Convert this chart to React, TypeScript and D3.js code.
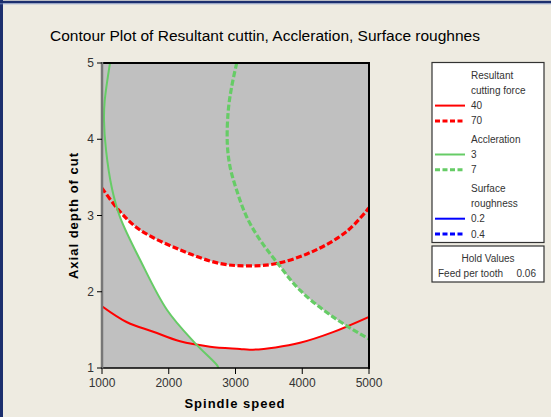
import React from "react";
import * as d3 from "d3";

// Overlaid contour plot: two responses per factor level, hold value for feed per tooth
const W = 551;
const H = 417;

const xTicks = [1000, 2000, 3000, 4000, 5000];
const yTicks = [1, 2, 3, 4, 5];

// Contour lines as [spindle speed, axial depth of cut]
const force40: [number, number][] = [
  [1000, 1.81], [1375, 1.6], [1768, 1.476], [2169, 1.35], [2618, 1.28],
  [3067, 1.25], [3217, 1.24], [3600, 1.27], [3966, 1.33], [4460, 1.47], [5000, 1.67],
];
const force70: [number, number][] = [
  [1000, 3.36], [1270, 3.05], [1570, 2.81], [2169, 2.55], [2768, 2.37],
  [3217, 2.34], [3617, 2.37], [4161, 2.53], [4665, 2.79], [5000, 3.1],
];
const accel3: [number, number][] = [
  [1120, 5], [1040, 4.5], [1030, 4.25], [1060, 3.86], [1150, 3.35], [1270, 2.98],
  [1570, 2.42], [1975, 1.76], [2390, 1.33], [2720, 1.04], [2745, 1],
];
const accel7: [number, number][] = [
  [3018, 5], [2943, 4.69], [2892, 4.38], [2877, 3.95], [2918, 3.64], [3018, 3.33],
  [3168, 2.98], [3367, 2.68], [3617, 2.39], [3966, 2.02], [4460, 1.67], [5000, 1.38],
];

const legendGroups = [
  { title: ["Resultant", "cutting force"], color: "#ff0000", levels: ["40", "70"] },
  { title: ["Accleration"], color: "#66cc66", levels: ["3", "7"] },
  { title: ["Surface", "roughness"], color: "#0000ff", levels: ["0.2", "0.4"] },
];

const holdName = "Feed per tooth";
const holdValue = "0.06";

export default function App() {
  const x = d3.scaleLinear().domain([1000, 5000]).range([102, 369]);
  const y = d3.scaleLinear().domain([1, 5]).range([368, 63]);
  const line = d3
    .line<[number, number]>()
    .x((d) => x(d[0]))
    .y((d) => y(d[1]))
    .curve(d3.curveCatmullRom.alpha(0.5));

  const smoothPoly = (pts: [number, number][], extra: [number, number][]) =>
    (line(pts) as string) + extra.map((d) => `L${x(d[0])},${y(d[1])}`).join("") + "Z";

  const fs = "'Liberation Sans', Arial, sans-serif";

  // legend rows
  const rows: React.ReactNode[] = [];
  let ry = 75;
  legendGroups.forEach((g, gi) => {
    g.title.forEach((t, ti) => {
      rows.push(
        <text key={`t${gi}${ti}`} x={471} y={ry} dy="0.35em" fontSize={10} fill="#333" fontFamily={fs}>
          {t}
        </text>
      );
      ry += 15.3;
    });
    g.levels.forEach((lv, li) => {
      rows.push(
        <g key={`l${gi}${li}`}>
          <line
            x1={435}
            x2={465}
            y1={ry}
            y2={ry}
            stroke={g.color}
            strokeWidth={li === 0 ? 2 : 3}
            strokeDasharray={li === 0 ? undefined : "5,2.5"}
          />
          <text x={471} y={ry} dy="0.35em" fontSize={10} fill="#333" fontFamily={fs}>
            {lv}
          </text>
        </g>
      );
      ry += 15.3;
    });
    ry += 3;
  });

  return (
    <svg width={W} height={H} style={{ position: "absolute", left: 0, top: 0 }} fontFamily={fs}>
      <defs>
        <clipPath id="aboveF40">
          <path d={smoothPoly(force40, [[5000, 5], [1000, 5]])} />
        </clipPath>
        <clipPath id="belowF70">
          <path d={smoothPoly(force70, [[5000, 1], [1000, 1]])} />
        </clipPath>
        <clipPath id="rightA3">
          <path d={smoothPoly(accel3, [[5000, 1], [5000, 5]])} />
        </clipPath>
        <clipPath id="leftA7">
          <path d={smoothPoly(accel7, [[5000, 1], [1000, 1], [1000, 5]])} />
        </clipPath>
        <clipPath id="plotArea">
          <rect x={102} y={63} width={267} height={305} />
        </clipPath>
      </defs>

      <rect x={0} y={0} width={W} height={H} fill="#eeebe1" />
      <line x1={0} x2={W} y1={2} y2={2} stroke="#1c2f6e" strokeWidth={2.5} />
      <line x1={1.5} x2={1.5} y1={0} y2={H} stroke="#1c2f6e" strokeWidth={3} />
      <line x1={0} x2={W} y1={3.8} y2={3.8} stroke="#7f93c6" strokeWidth={0.8} />

      <text x={265} y={36} dy="0.35em" textAnchor="middle" fontSize={15.5} fill="#000" fontFamily={fs}>
        Contour Plot of Resultant cuttin, Accleration, Surface roughnes
      </text>

      {/* plot region */}
      <rect x={102} y={63} width={267} height={305} fill="#c0c0c0" />
      <g clipPath="url(#plotArea)">
        <g clipPath="url(#aboveF40)">
          <g clipPath="url(#belowF70)">
            <g clipPath="url(#rightA3)">
              <rect x={102} y={63} width={267} height={305} fill="#ffffff" clipPath="url(#leftA7)" />
            </g>
          </g>
        </g>
        <path d={line(force40) as string} fill="none" stroke="#ff0000" strokeWidth={2} />
        <path d={line(force70) as string} fill="none" stroke="#ff0000" strokeWidth={3.2} strokeDasharray="6,2.5" />
        <path d={line(accel3) as string} fill="none" stroke="#66cc66" strokeWidth={2} />
        <path d={line(accel7) as string} fill="none" stroke="#66cc66" strokeWidth={3.2} strokeDasharray="6,2.5" />
      </g>

      {/* frame */}
      <line x1={101} x2={370} y1={63} y2={63} stroke="#000" strokeWidth={2} />
      <line x1={369} x2={369} y1={62} y2={369} stroke="#000" strokeWidth={2} />
      <line x1={101} x2={370} y1={368} y2={368} stroke="#000" strokeWidth={1.5} />
      <line x1={102} x2={102} y1={62} y2={369} stroke="#777" strokeWidth={2.5} />

      {/* x axis */}
      {xTicks.map((t) => (
        <g key={`x${t}`}>
          <line x1={x(t)} x2={x(t)} y1={368} y2={374} stroke="#000" strokeWidth={1} />
          <text x={x(t)} y={383} dy="0.35em" textAnchor="middle" fontSize={12} fill="#333" fontFamily={fs}>
            {t}
          </text>
        </g>
      ))}
      <text x={235} y={403} dy="0.35em" textAnchor="middle" fontSize={13} fontWeight="bold" letterSpacing={1} fill="#000" fontFamily={fs}>
        Spindle speed
      </text>

      {/* y axis */}
      {yTicks.map((t) => (
        <g key={`y${t}`}>
          <line x1={97} x2={102} y1={y(t)} y2={y(t)} stroke="#000" strokeWidth={1} />
          <text x={94} y={y(t)} dy="0.35em" textAnchor="end" fontSize={12} fill="#333" fontFamily={fs}>
            {t}
          </text>
        </g>
      ))}
      <text
        transform="translate(73,215.5) rotate(-90)"
        dy="0.35em"
        textAnchor="middle"
        fontSize={13}
        fontWeight="bold"
        letterSpacing={1}
        fill="#000"
        fontFamily={fs}
      >
        Axial depth of cut
      </text>

      {/* legend */}
      <rect x={432} y={62.5} width={112} height={180} fill="#ffffff" stroke="#333" strokeWidth={1.2} />
      {rows}
      <rect x={432} y={246} width={112} height={36} fill="#ffffff" stroke="#333" strokeWidth={1.2} />
      <text x={488} y={258} dy="0.35em" textAnchor="middle" fontSize={10} fill="#333" fontFamily={fs}>
        Hold Values
      </text>
      <text x={438} y={273} dy="0.35em" fontSize={10} fill="#333" fontFamily={fs}>
        {holdName}
      </text>
      <text x={536} y={273} dy="0.35em" textAnchor="end" fontSize={10} fill="#333" fontFamily={fs}>
        {holdValue}
      </text>
    </svg>
  );
}
